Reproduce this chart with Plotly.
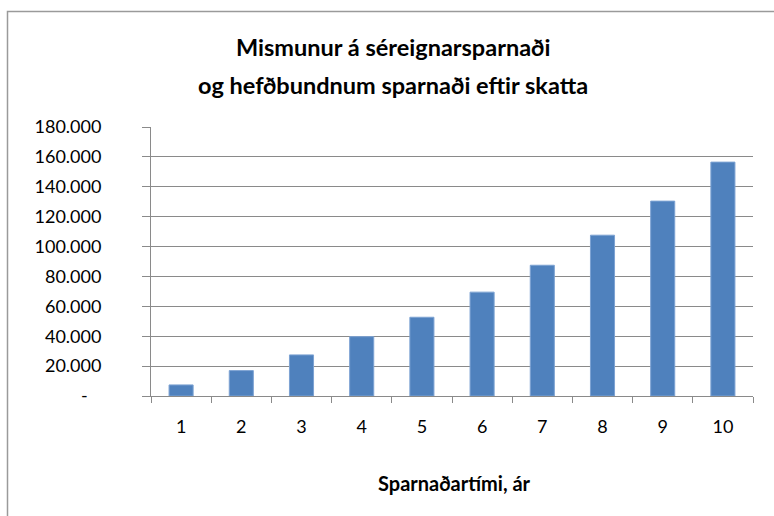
import plotly.graph_objects as go

years = [str(i) for i in range(1, 11)]
values = [7400, 17000, 27500, 39700, 52700, 69500, 87500, 107600, 130400, 156500]
tick_vals = [0, 20000, 40000, 60000, 80000, 100000, 120000, 140000, 160000, 180000]
tick_text = ["-" + "\u00a0" * 3, "20.000", "40.000", "60.000", "80.000", "100.000",
             "120.000", "140.000", "160.000", "180.000"]

title_line1 = "Mismunur á séreignarsparnaði"
title_line2 = "og hefðbundnum sparnaði eftir skatta"
x_title = "Sparnaðartími, ár"

FONT = "Lato"
GRID = "#8a8a8a"
L, R, T, B = 151, 753, 127, 396
PW, PH = R - L, B - T


def py(pix):
    return (B - pix) / PH


def px(pix):
    return (pix - L) / PW


fig = go.Figure(go.Bar(
    x=years, y=values,
    marker=dict(color="#4F81BD", line=dict(color="#7da3d3", width=1)),
))

fig.update_layout(
    width=774, height=516,
    margin=dict(l=L, r=774 - R, t=T, b=516 - B, autoexpand=False),
    paper_bgcolor="white", plot_bgcolor="white",
    bargap=0.6,
    showlegend=False,
    font=dict(family=FONT, color="#000000"),
    xaxis=dict(
        type="category", tickson="boundaries", ticks="outside", ticklen=6,
        tickcolor=GRID, showline=True, linecolor=GRID, linewidth=1,
        showgrid=False, tickfont=dict(size=18), ticklabelstandoff=14,
        automargin=False,
    ),
    yaxis=dict(
        range=[0, 180000], tickvals=tick_vals, ticktext=tick_text,
        ticks="outside", ticklen=8, tickcolor=GRID,
        showline=True, linecolor=GRID, linewidth=1,
        showgrid=True, gridcolor=GRID, gridwidth=1,
        tickfont=dict(size=18), ticklabelstandoff=37,
        zeroline=False, automargin=False,
    ),
    annotations=[
        dict(text="<b>" + title_line1 + "</b>", xref="paper", yref="paper",
             x=px(393), y=py(47), xanchor="center", yanchor="middle",
             showarrow=False, font=dict(size=23.5)),
        dict(text="<b>" + title_line2 + "</b>", xref="paper", yref="paper",
             x=px(393), y=py(85), xanchor="center", yanchor="middle",
             showarrow=False, font=dict(size=23.5)),
        dict(text="<b>" + x_title + "</b>", xref="paper", yref="paper",
             x=px(454), y=py(483), xanchor="center", yanchor="middle",
             showarrow=False, font=dict(size=20)),
    ],
    shapes=[dict(type="rect", xref="paper", yref="paper",
                 x0=px(7.5), x1=px(820), y0=py(600), y1=py(11.5),
                 line=dict(color="#9a9a9a", width=1.5), layer="above")],
)

fig.write_html("out.html", config={"displayModeBar": False},
               post_script="document.body.style.margin='0';")
